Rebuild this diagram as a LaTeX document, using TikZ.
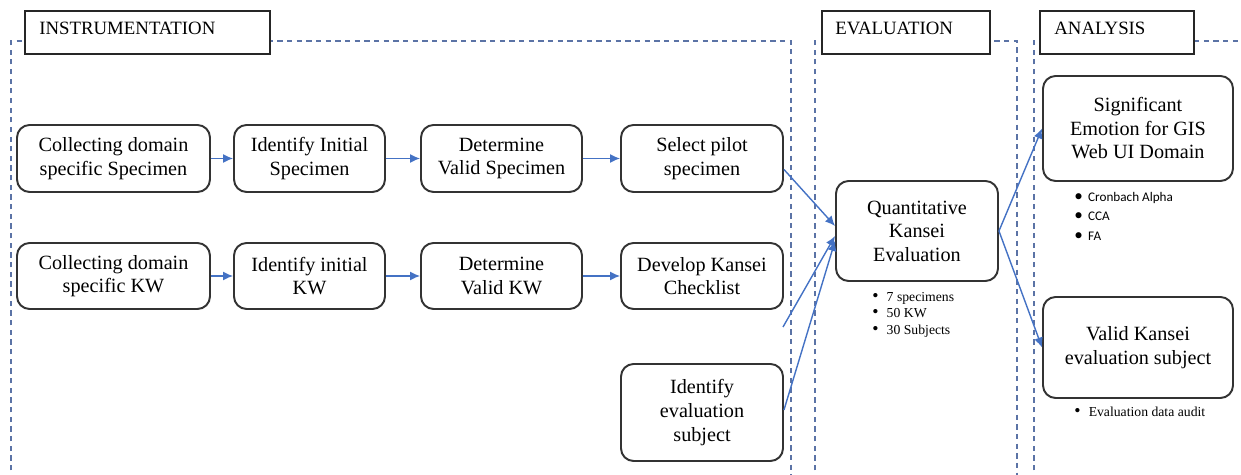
\documentclass[tikz,border=0pt]{standalone}
\usepackage{graphicx}
\usepackage{fontspec}
\setmainfont{Liberation Serif}
\newfontfamily\notesans{Carlito}
\usetikzlibrary{arrows.meta, positioning}
\definecolor{framecol}{HTML}{5B73A6}
\definecolor{flowcol}{HTML}{4472C4}
\tikzset{
    stepbox/.style={draw=black!80, line width=1.1pt, rounded corners=0.25cm, align=center,
        inner sep=2pt, font=\fontsize{11.5}{13.4}\selectfont},
    phaseline/.style={draw=framecol, line width=0.7pt, dash pattern=on 3pt off 2.5pt},
    phasebox/.style={draw=black!85, line width=0.8pt, fill=white},
    phasetitle/.style={anchor=west, inner sep=0pt, font=\fontsize{10.7}{12}\selectfont},
    flow/.style={-{Latex[length=2mm, width=1.8mm]}, draw=flowcol, line width=0.8pt},
    notes/.style={anchor=north west, align=left, inner sep=0pt}
}
\newcommand{\bul}{\makebox[1.05em][l]{\scalebox{1.3}{\textbullet}}}

\begin{document}
\begin{tikzpicture}[x=0.02cm, y=-0.02cm]
    \useasboundingbox (0,0) rectangle (1241,475);
    % phase frames
    \draw[phaseline] (11,480) -- (11,41) -- (791,41) -- (791,480);
    \draw[phaseline] (815,480) -- (815,41) -- (1017,41) -- (1017,480);
    \draw[phaseline] (1034,480) -- (1034,41) -- (1245,41);
    % phase titles
    \draw[phasebox] (25,11) rectangle (270,54);
    \node[phasetitle] (instr) at (39,28) {INSTRUMENTATION};
    \draw[phasebox] (822,11) rectangle (990,54);
    \node[phasetitle] (eval) at (835,28) {EVALUATION};
    \draw[phasebox] (1040,11) rectangle (1194,54);
    \node[phasetitle] (anal) at (1054,28) {ANALYSIS};

    % instrumentation, specimen row
    \node[stepbox, minimum width=3.86cm, minimum height=1.34cm] (spec1) at (113.5,158.5) {Collecting domain\\specific Specimen};
    \node[stepbox, minimum width=3.02cm, minimum height=1.34cm] (spec2) at (309.5,158.5) {Identify Initial\\Specimen};
    \node[stepbox, minimum width=3.22cm, minimum height=1.34cm] (spec3) at (501.5,158.5) {Determine\\Valid Specimen};
    \node[stepbox, minimum width=3.24cm, minimum height=1.34cm] (spec4) at (702,158.5) {Select pilot\\specimen};
    % instrumentation, KW row
    \node[stepbox, minimum width=3.86cm, minimum height=1.32cm] (kw1) at (113.5,276) {Collecting domain\\specific KW};
    \node[stepbox, minimum width=3.02cm, minimum height=1.32cm] (kw2) at (309.5,276) {Identify initial\\KW};
    \node[stepbox, minimum width=3.22cm, minimum height=1.32cm] (kw3) at (501.5,276) {Determine\\Valid KW};
    \node[stepbox, minimum width=3.24cm, minimum height=1.32cm] (kw4) at (702,276) {Develop Kansei\\Checklist};
    \node[stepbox, minimum width=3.24cm, minimum height=1.94cm] (subj) at (702,412.5) {Identify\\evaluation\\subject};
    \coordinate (kwfree) at (783,327);

    % evaluation
    \node[stepbox, minimum width=3.24cm, minimum height=2cm] (quant) at (917,231) {Quantitative\\Kansei\\Evaluation};
    \node[notes, font=\fontsize{7.8}{9.4}\selectfont] (quantnotes) at (872,292) {\bul 7 specimens\\\bul 50 KW\\\bul 30 Subjects};

    % analysis
    \node[stepbox, minimum width=3.8cm, minimum height=2.1cm] (emo) at (1138,128.5) {Significant\\Emotion for GIS\\Web UI Domain};
    \node[notes, font=\notesans\fontsize{7.5}{11}\selectfont] (emonotes) at (1074,192) {\bul Cronbach Alpha\\\bul CCA\\\bul FA};
    \node[stepbox, minimum width=3.8cm, minimum height=2.02cm] (valid) at (1138,347.5) {Valid Kansei\\evaluation subject};
    \node[notes, font=\fontsize{7.8}{9.4}\selectfont] (validnotes) at (1074,407) {\bul Evaluation data audit};

    % connectors
    \draw[flow] (spec1) -- (spec2);
    \draw[flow] (spec2) -- (spec3);
    \draw[flow] (spec3) -- (spec4);
    \draw[flow] (kw1) -- (kw2);
    \draw[flow] (kw2) -- (kw3);
    \draw[flow] (kw3) -- (kw4);
    \draw[flow] ([yshift=-0.22cm]spec4.east) -- ([yshift=0.1cm]quant.west);
    \draw[flow] (kwfree) -- ([yshift=-0.1cm]quant.west);
    \draw[flow] ([yshift=0.05cm]subj.east) -- ([yshift=-0.2cm]quant.west);
    \draw[flow] (quant.east) -- (emo.west);
    \draw[flow] (quant.east) -- (valid.west);
\end{tikzpicture}
\end{document}
